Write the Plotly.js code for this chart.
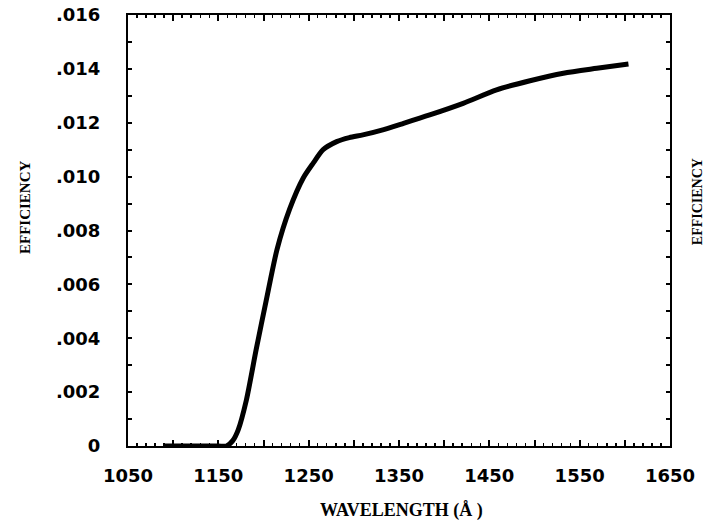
<!DOCTYPE html>
<html>
<head>
<meta charset="utf-8">
<script src="https://cdn.plot.ly/plotly-3.0.1.min.js"></script>
<style>html,body{margin:0;padding:0;background:#fff;}#chart{width:704px;height:531px;}</style>
</head>
<body>
<div id="chart"></div>
<script>
// Wavelength (Angstrom) and efficiency
const wavelength = [1089, 1120, 1150, 1159, 1166, 1172, 1181, 1192, 1203, 1215, 1229, 1244, 1255, 1266, 1281, 1295, 1310, 1330, 1355, 1384, 1421, 1458, 1495, 1532, 1569, 1604];
const efficiency = [0, 0, 0, 0, 0.0002, 0.0006, 0.0017, 0.0036, 0.0054, 0.0073, 0.0088, 0.00995, 0.0105, 0.0110, 0.0113, 0.01145, 0.01155, 0.01172, 0.01198, 0.01229, 0.01272, 0.01322, 0.01356, 0.01384, 0.01402, 0.01418];

const xTickVals = [1050, 1100, 1150, 1200, 1250, 1300, 1350, 1400, 1450, 1500, 1550, 1600, 1650];
const xTickText = ['1050', '', '1150', '', '1250', '', '1350', '', '1450', '', '1550', '', '1650'];
const yTickVals = [0, 0.001, 0.002, 0.003, 0.004, 0.005, 0.006, 0.007, 0.008, 0.009, 0.010, 0.011, 0.012, 0.013, 0.014, 0.015, 0.016];
const yTickText = ['0', '', '.002', '', '.004', '', '.006', '', '.008', '', '.010', '', '.012', '', '.014', '', '.016'];

const xTitle = 'WAVELENGTH (Å )';
const yTitle = 'EFFICIENCY';

const tickFont = {family: 'DejaVu Sans', size: 18, color: '#000', weight: 'bold'};
const titleFont = {family: 'Liberation Serif', size: 18, color: '#000', weight: 'bold'};

const trace = {
  x: wavelength, y: efficiency, type: 'scatter', mode: 'lines',
  line: {color: '#000', width: 5, shape: 'spline', smoothing: 0.7},
  hoverinfo: 'skip'
};

const layout = {
  width: 704, height: 531,
  margin: {l: 128, r: 34, t: 15, b: 85},
  paper_bgcolor: '#fff', plot_bgcolor: '#fff',
  showlegend: false,
  xaxis: {
    range: [1050, 1650], showgrid: false, zeroline: false,
    showline: true, linecolor: '#000', linewidth: 2, mirror: 'ticks',
    ticks: 'inside', ticklen: 6, tickwidth: 2, tickcolor: '#000',
    tickmode: 'array', tickvals: xTickVals, ticktext: xTickText,
    tickfont: tickFont, ticklabelstandoff: 12,
    minor: {tickmode: 'linear', tick0: 1050, dtick: 10, ticks: 'inside', ticklen: 3, tickwidth: 1.5, tickcolor: '#000', showgrid: false}
  },
  yaxis: {
    range: [0, 0.016], showgrid: false, zeroline: false,
    showline: true, linecolor: '#000', linewidth: 2, mirror: 'ticks',
    ticks: 'inside', ticklen: 4, tickwidth: 2, tickcolor: '#000',
    tickmode: 'array', tickvals: yTickVals, ticktext: yTickText,
    tickfont: tickFont, ticklabelstandoff: 22
  },
  annotations: [
    {text: xTitle, xref: 'paper', yref: 'paper', x: 0.5055, y: -0.1485, xanchor: 'center', yanchor: 'middle', showarrow: false, font: titleFont},
    {text: yTitle, xref: 'paper', yref: 'paper', x: -0.190, y: 0.5545, xanchor: 'center', yanchor: 'middle', textangle: -90, showarrow: false, font: {family: 'Liberation Serif', size: 15, color: '#000', weight: 'bold'}},
    {text: yTitle, xref: 'paper', yref: 'paper', x: 1.0498, y: 0.568, xanchor: 'center', yanchor: 'middle', textangle: -90, showarrow: false, font: {family: 'Liberation Serif', size: 14, color: '#000', weight: 'bold'}}
  ]
};

Plotly.newPlot('chart', [trace], layout, {displayModeBar: false, staticPlot: true});
</script>
</body>
</html>
